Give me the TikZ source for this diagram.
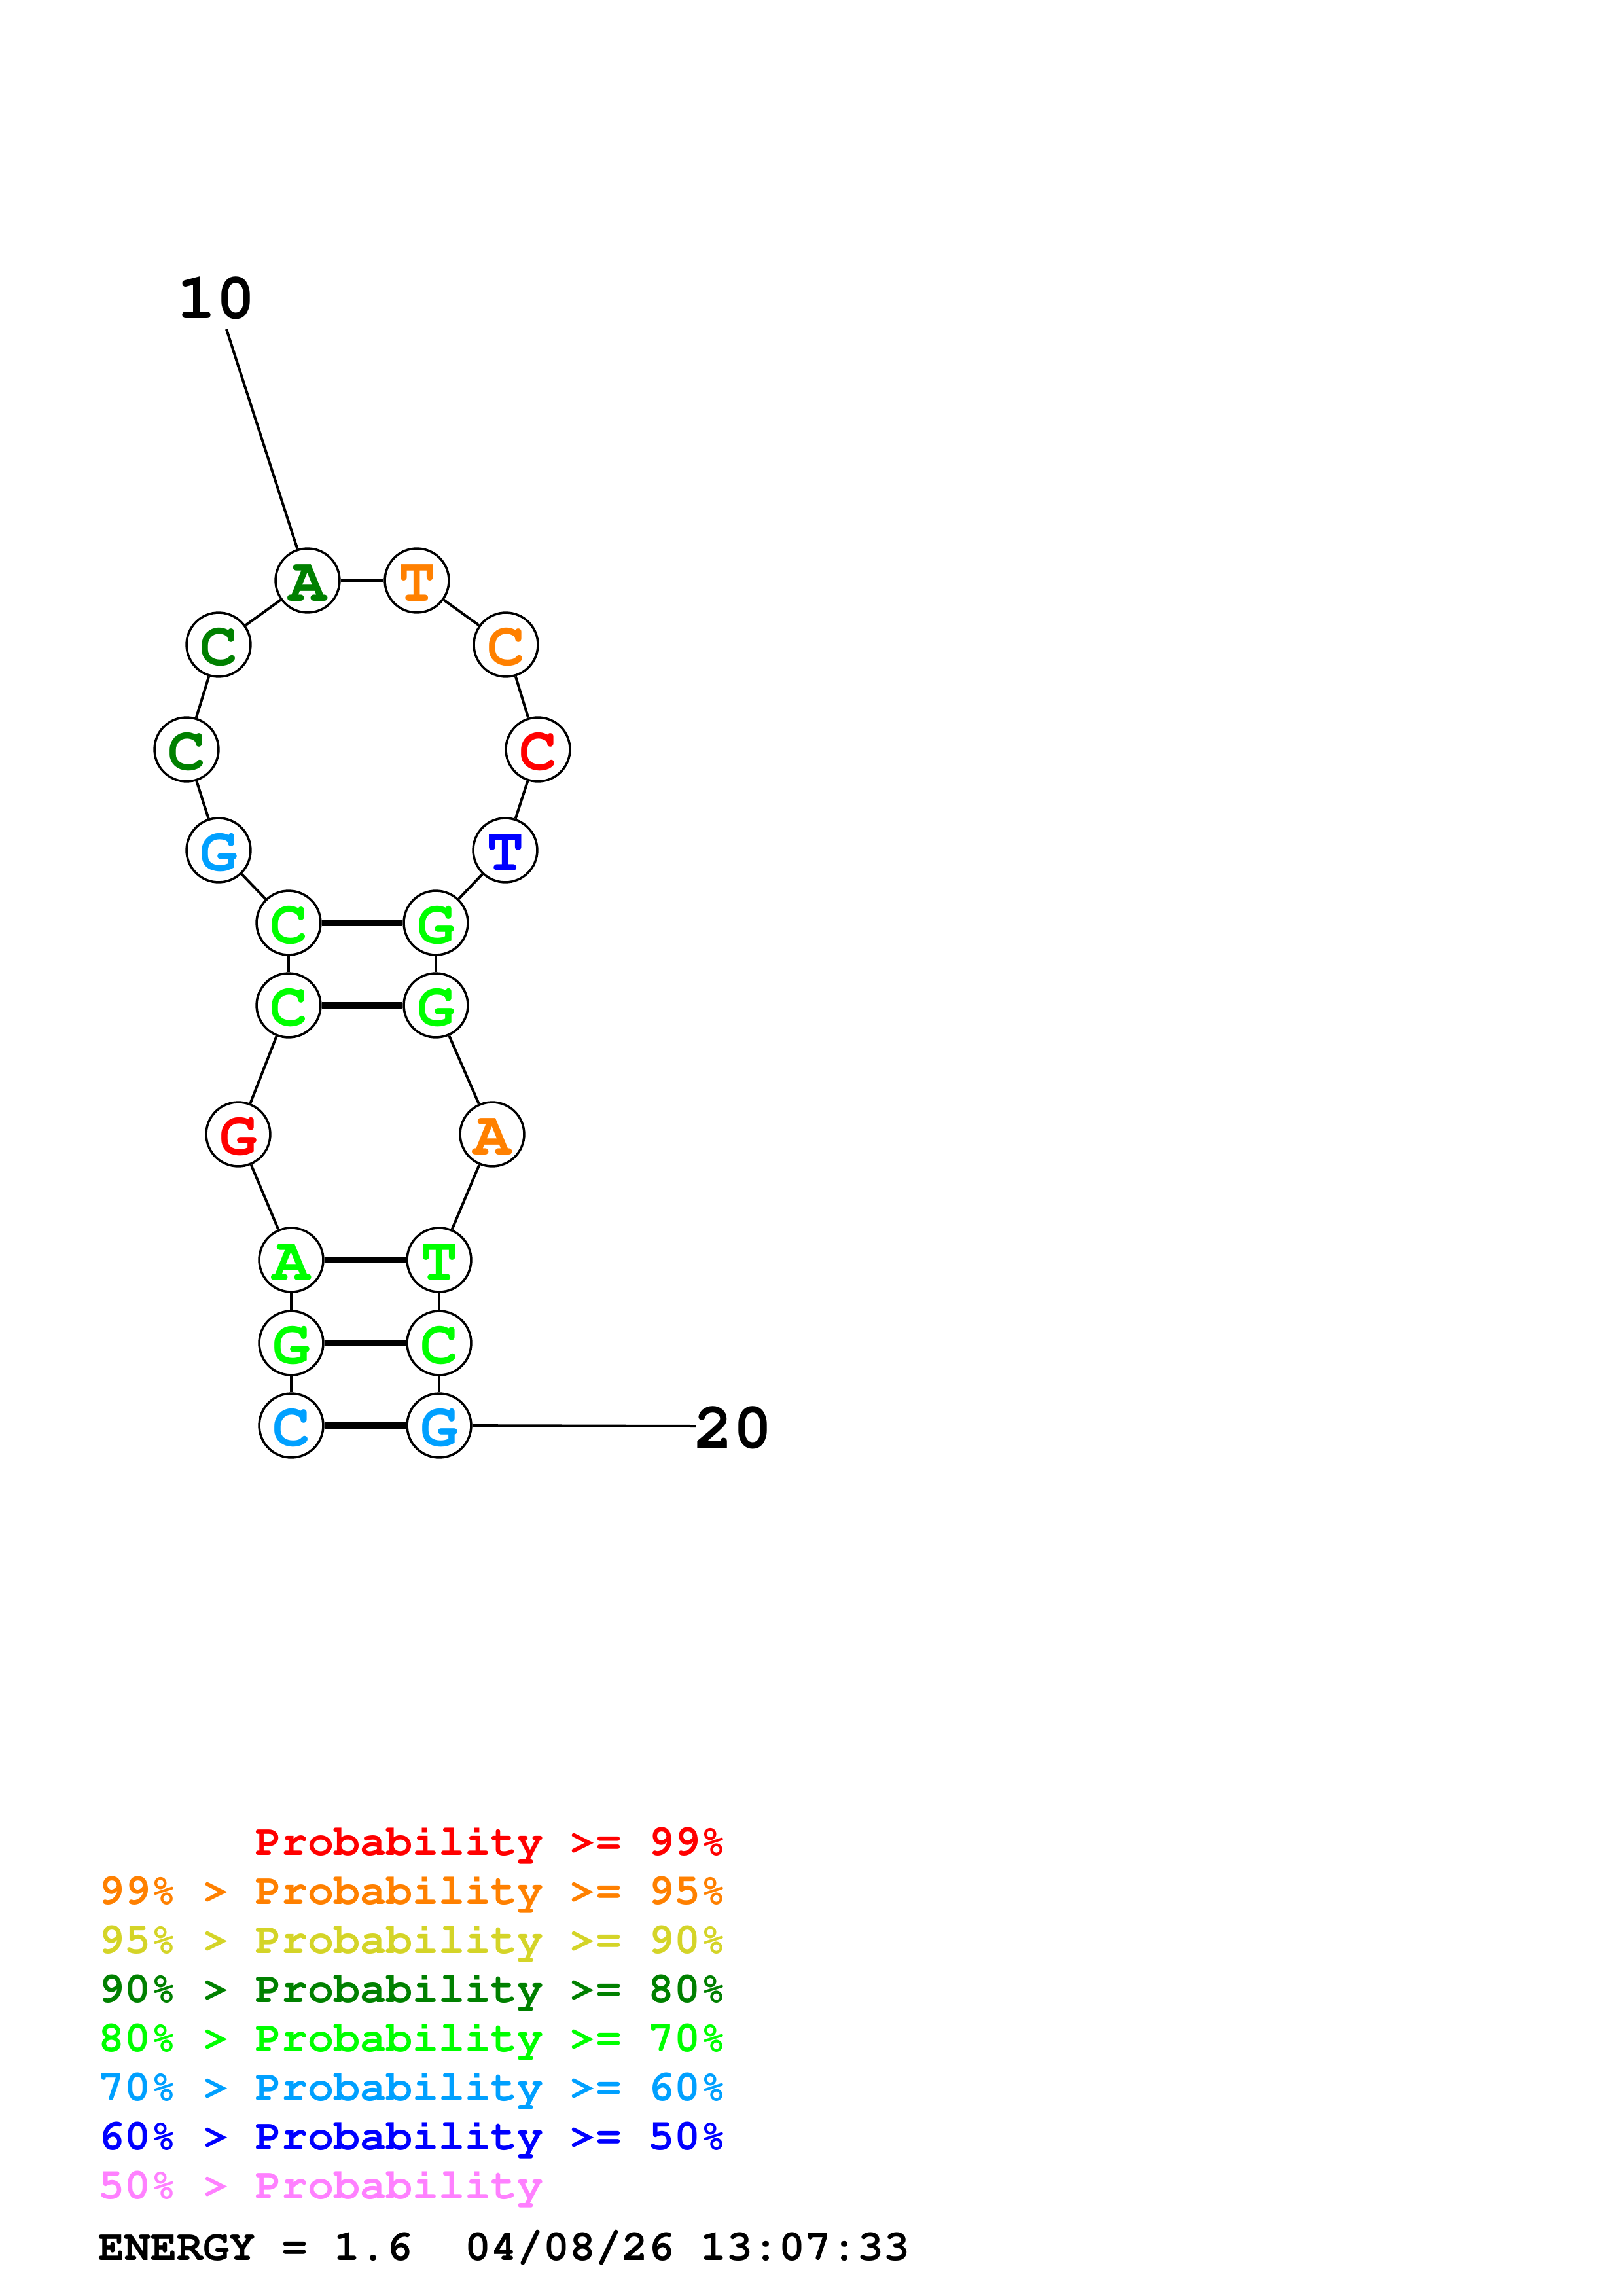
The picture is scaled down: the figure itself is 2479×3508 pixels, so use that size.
\documentclass[tikz,border=0pt]{standalone}
\usepackage[T1]{fontenc}
\newcommand\courb{\fontfamily{pcr}\fontseries{b}\selectfont}
\definecolor{cred}{RGB}{255,0,0}
\definecolor{corange}{RGB}{255,128,0}
\definecolor{cyellow}{RGB}{212,212,40}
\definecolor{cdkgreen}{RGB}{0,128,0}
\definecolor{cgreen}{RGB}{0,255,0}
\definecolor{clblue}{RGB}{0,160,255}
\definecolor{cblue}{RGB}{0,0,255}
\definecolor{cpink}{RGB}{255,128,255}
\tikzset{
  nt/.style={circle,draw=black,fill=white,line width=0.84pt,minimum size=23.5pt,inner sep=0pt,
    text height=15pt,text depth=0pt,
    font=\courb\fontsize{23}{23}\selectfont},
  bb/.style={draw=black,line width=0.96pt},
  bp/.style={draw=black,line width=2.6pt},
  numlbl/.style={inner sep=0pt,anchor=base,font=\courb\fontsize{24}{24}\selectfont},
  leg/.style={inner sep=0pt,anchor=base west,font=\courb\fontsize{16}{16}\selectfont}
}
\begin{document}
\begin{tikzpicture}[x=0.24pt,y=-0.24pt]
\useasboundingbox (0,0) rectangle (2479,3508);
% nucleotides
\node[nt,text=clblue]   (n1)  at (445,2178) {C};
\node[nt,text=cgreen]   (n2)  at (445,2052) {G};
\node[nt,text=cgreen]   (n3)  at (445,1925) {A};
\node[nt,text=cred]     (n4)  at (364,1733) {G};
\node[nt,text=cgreen]   (n5)  at (441,1536) {C};
\node[nt,text=cgreen]   (n6)  at (441,1410) {C};
\node[nt,text=clblue]   (n7)  at (334,1299) {G};
\node[nt,text=cdkgreen] (n8)  at (285,1145) {C};
\node[nt,text=cdkgreen] (n9)  at (334,985)  {C};
\node[nt,text=cdkgreen] (n10) at (470,887)  {A};
\node[nt,text=corange]  (n11) at (637,887)  {T};
\node[nt,text=corange]  (n12) at (773,985)  {C};
\node[nt,text=cred]     (n13) at (822,1145) {C};
\node[nt,text=cblue]    (n14) at (772,1299) {T};
\node[nt,text=cgreen]   (n15) at (666,1410) {G};
\node[nt,text=cgreen]   (n16) at (666,1536) {G};
\node[nt,text=corange]  (n17) at (752,1733) {A};
\node[nt,text=cgreen]   (n18) at (671,1925) {T};
\node[nt,text=cgreen]   (n19) at (671,2052) {C};
\node[nt,text=clblue]   (n20) at (671,2178) {G};
% backbone
\foreach \a/\b in {1/2,2/3,3/4,4/5,5/6,6/7,7/8,8/9,9/10,10/11,11/12,12/13,13/14,14/15,15/16,16/17,17/18,18/19,19/20}
  \path[bb] (n\a) -- (n\b);
% base pairs
\foreach \a/\b in {1/20,2/19,3/18,5/16,6/15}
  \path[bp] (n\a) -- (n\b);
% numbering
\node[numlbl] (lab10) at (330,487) {10};
\coordinate (l10) at (346,503);
\path[bb] (l10) -- (n10);
\node[numlbl] (lab20) at (1120,2212) {20};
\coordinate (l20) at (1063,2179);
\path[bb] (n20) -- (l20);
% legend
\node[leg,text=cred]     (g1) at (390,2834) {Probability >= 99\%};
\node[leg,text=corange]  (g2) at (150,2909) {99\% > Probability >= 95\%};
\node[leg,text=cyellow]  (g3) at (150,2984) {95\% > Probability >= 90\%};
\node[leg,text=cdkgreen] (g4) at (150,3059) {90\% > Probability >= 80\%};
\node[leg,text=cgreen]   (g5) at (150,3134) {80\% > Probability >= 70\%};
\node[leg,text=clblue]   (g6) at (150,3209) {70\% > Probability >= 60\%};
\node[leg,text=cblue]    (g7) at (150,3284) {60\% > Probability >= 50\%};
\node[leg,text=cpink]    (g8) at (150,3359) {50\% > Probability};
\node[leg,text=black]    (g9) at (150,3453) {ENERGY = 1.6\ \ 04/08/26 13:07:33};
\end{tikzpicture}
\end{document}
